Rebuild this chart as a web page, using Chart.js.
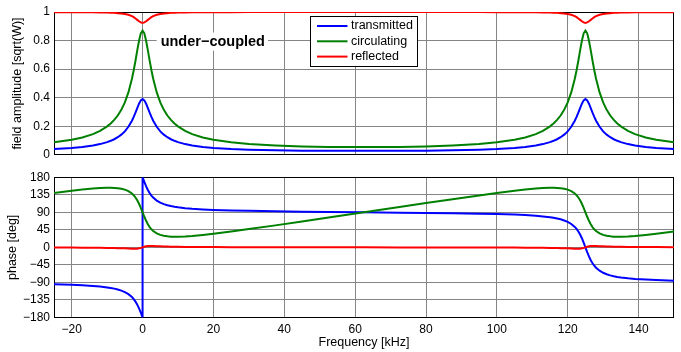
<!DOCTYPE html>
<html><head><meta charset="utf-8">
<script src="https://cdn.jsdelivr.net/npm/chart.js@4.4.1/dist/chart.umd.min.js"></script>
<style>
html,body{margin:0;padding:0;background:#fff;}
#wrap{position:relative;width:681px;height:352px;overflow:hidden;background:#fff;}
canvas{position:absolute;left:0;}
#c1{top:0;} #c2{top:166px;}
</style></head><body>
<div id="wrap"><canvas id="c1" width="681" height="166"></canvas><canvas id="c2" width="681" height="186"></canvas></div>
<script>
// ---- data (frequency in kHz) ----
const freq = [-25,-20,-17,-14,-12,-10,-9,-8,-7,-6,-5,-4,-3,-2.5,-2,-1.5,-1,-0.5,
  0,0,
  0.5,1,1.5,2,2.5,3,4,5,6,7,8,9,10,12,14,17,20,25,30,37.5,45,52.5,62.5,
  72.5,80,87.5,95,100,105,108,111,113,115,116,117,118,119,120,121,122,122.5,123,123.5,124,124.5,
  125,
  125.5,126,126.5,127,127.5,128,129,130,131,132,133,134,135,137,139,142,145,150];

const transAmp = [0.040,0.048,0.055,0.065,0.075,0.089,0.098,0.109,0.123,0.141,0.164,0.196,0.239,0.265,0.295,0.327,0.358,0.381,
  0.390,0.390,
  0.381,0.358,0.327,0.295,0.265,0.239,0.196,0.164,0.141,0.123,0.109,0.098,0.089,0.075,0.065,0.055,0.048,0.040,0.035,0.031,0.029,0.028,0.028,
  0.028,0.029,0.031,0.035,0.040,0.048,0.055,0.065,0.075,0.089,0.098,0.109,0.123,0.141,0.164,0.196,0.239,0.265,0.295,0.327,0.358,0.381,
  0.390,
  0.381,0.358,0.327,0.295,0.265,0.239,0.196,0.164,0.141,0.123,0.109,0.098,0.089,0.075,0.065,0.055,0.048,0.040];

const circAmp = [0.088,0.105,0.121,0.145,0.168,0.199,0.219,0.244,0.275,0.315,0.367,0.437,0.533,0.592,0.659,0.731,0.799,0.851,
  0.870,0.870,
  0.851,0.799,0.731,0.659,0.592,0.533,0.437,0.367,0.315,0.275,0.244,0.219,0.199,0.168,0.145,0.121,0.105,0.088,0.076,0.065,0.058,0.055,0.054,
  0.055,0.058,0.065,0.076,0.088,0.105,0.121,0.145,0.168,0.199,0.219,0.244,0.275,0.315,0.367,0.437,0.533,0.592,0.659,0.731,0.799,0.851,
  0.870,
  0.851,0.799,0.731,0.659,0.592,0.533,0.437,0.367,0.315,0.275,0.244,0.219,0.199,0.168,0.145,0.121,0.105,0.088];

const reflAmp = [0.999,0.999,0.998,0.998,0.997,0.996,0.995,0.994,0.992,0.990,0.986,0.981,0.971,0.964,0.955,0.945,0.935,0.927,
  0.924,0.924,
  0.927,0.935,0.945,0.955,0.964,0.971,0.981,0.986,0.990,0.992,0.994,0.995,0.996,0.997,0.998,0.998,0.999,0.999,0.9995,0.9995,0.9995,0.9995,0.9995,
  0.9995,0.9995,0.9995,0.9995,0.999,0.999,0.998,0.998,0.997,0.996,0.995,0.994,0.992,0.990,0.986,0.981,0.971,0.964,0.955,0.945,0.935,0.927,
  0.924,
  0.927,0.935,0.945,0.955,0.964,0.971,0.981,0.986,0.990,0.992,0.994,0.995,0.996,0.997,0.998,0.998,0.999,0.999];

const transPhase = [-94.6,-96.1,-97.3,-99.0,-100.6,-102.8,-104.2,-105.9,-108.1,-111.0,-114.7,-120.0,-127.6,-132.8,-139.2,-147.1,-156.6,-167.8,
  -180,180,
  167.8,156.6,147.1,139.2,132.8,127.6,120.0,114.7,111.0,108.1,105.9,104.2,102.8,100.6,99.0,97.3,96.1,94.6,93.6,92.4,91.6,90.9,90.0,
  89.1,88.4,87.6,86.5,85.4,84.0,82.7,81.0,79.4,77.2,75.8,74.1,71.9,69.0,65.3,60.0,52.4,47.2,40.8,32.9,23.4,12.2,
  0,
  -12.2,-23.4,-32.9,-40.8,-47.2,-52.4,-60.0,-65.3,-69.0,-71.9,-74.1,-75.8,-77.2,-79.4,-81.0,-82.7,-84.0,-85.4];

const circPhase = [139.4,145.2,148.2,150.8,152.1,152.8,152.9,152.5,151.8,150.4,148.1,144.3,138.1,133.6,128.0,120.8,111.9,101.5,
  90,90,
  78.5,68.1,59.2,52.0,46.4,41.9,35.7,31.9,29.6,28.2,27.5,27.2,27.2,27.9,29.2,31.8,34.9,40.6,46.8,56.4,66.4,76.5,90,
  103.5,113.6,123.6,133.3,139.4,145.2,148.2,150.8,152.1,152.8,152.9,152.5,151.8,150.4,148.1,144.3,138.1,133.6,128.0,120.8,111.9,101.5,
  90,
  78.5,68.1,59.2,52.0,46.4,41.9,35.7,31.9,29.6,28.2,27.5,27.2,27.2,27.9,29.2,31.8,34.9,40.6];

const reflPhase = [-0.5,-0.7,-0.9,-1.0,-1.2,-1.5,-1.6,-1.8,-2.0,-2.3,-2.6,-3.0,-3.4,-3.5,-3.5,-3.3,-2.6,-1.5,
  0,0,
  1.5,2.6,3.3,3.5,3.5,3.4,3.0,2.6,2.3,2.0,1.8,1.6,1.5,1.2,1.0,0.9,0.7,0.5,0.4,0.3,0.2,0.1,0,
  -0.1,-0.2,-0.3,-0.4,-0.5,-0.7,-0.9,-1.0,-1.2,-1.5,-1.6,-1.8,-2.0,-2.3,-2.6,-3.0,-3.4,-3.5,-3.5,-3.3,-2.6,-1.5,
  0,
  1.5,2.6,3.3,3.5,3.5,3.4,3.0,2.6,2.3,2.0,1.8,1.6,1.5,1.2,1.0,0.9,0.7,0.5];

const freqTicks = [-20,0,20,40,60,80,100,120,140];
const freqTickLabels = ['\u221220','0','20','40','60','80','100','120','140'];
const ampTicks = [0,0.2,0.4,0.6,0.8,1];
const ampTickLabels = ['0','0.2','0.4','0.6','0.8','1'];
const phaseTicks = [-180,-135,-90,-45,0,45,90,135,180];
const phaseTickLabels = ['\u2212180','\u2212135','\u221290','\u221245','0','45','90','135','180'];
const seriesNames = ['transmitted','circulating','reflected'];
const seriesColors = ['#0000ff','#008000','#ff0000'];
const annotationText = 'under\u2212coupled';
const annotationAt = {x: 5.1, y: 0.793};

// ---- chart setup ----
const FONT = "'Liberation Sans', Arial, Helvetica, sans-serif";
Chart.defaults.font.family = FONT;
Chart.defaults.font.size = 12;
Chart.defaults.color = '#000';
const GRID = '#858585';

function pts(ys){ return freq.map((x,i)=>({x:x, y:ys[i]})); }
function ds(i, ys){
  return {label:seriesNames[i], data:pts(ys), borderColor:seriesColors[i], backgroundColor:seriesColors[i],
    borderWidth:2, pointRadius:0, pointHoverRadius:0, tension:0, fill:false, order:2-i};
}
function fixedTicks(values){ return function(scale){ scale.ticks = values.map(v=>({value:v})); }; }

const framePlugin = {
  id:'frame',
  beforeDatasetsDraw(chart){
    const {ctx, chartArea:a} = chart;
    ctx.save();
    ctx.strokeStyle = '#000'; ctx.lineWidth = 1;
    ctx.strokeRect(Math.round(a.left)+0.5, Math.round(a.top)+0.5, Math.round(a.right)-Math.round(a.left)-1, Math.round(a.bottom)-Math.round(a.top)-1);
    ctx.restore();
  }
};

const decorPlugin = {
  id:'decor',
  afterDraw(chart){
    const ctx = chart.ctx;
    ctx.save();
    // annotation text with white background
    const ax = chart.scales.x.getPixelForValue(annotationAt.x);
    const ay = chart.scales.y.getPixelForValue(annotationAt.y);
    ctx.font = 'bold 14.5px ' + FONT;
    const tw = ctx.measureText(annotationText).width;
    ctx.fillStyle = '#fff';
    ctx.fillRect(ax-4, ay-9, tw+7, 18);
    ctx.fillStyle = '#000';
    ctx.textBaseline = 'middle'; ctx.textAlign = 'left';
    ctx.fillText(annotationText, ax, ay);
    // legend box
    const L = 310, T = 16, W = 107, H = 50;
    ctx.fillStyle = '#fff';
    ctx.fillRect(L, T, W, H);
    ctx.strokeStyle = '#000'; ctx.lineWidth = 1;
    ctx.strokeRect(L+0.5, T+0.5, W, H);
    ctx.font = '12.5px ' + FONT;
    for (let i=0;i<seriesNames.length;i++){
      const y = T + 10 + i*15.3;
      ctx.strokeStyle = seriesColors[i]; ctx.lineWidth = 2;
      ctx.beginPath(); ctx.moveTo(L+7, y); ctx.lineTo(L+37.5, y); ctx.stroke();
      ctx.fillStyle = '#000';
      ctx.fillText(seriesNames[i], L+41, y);
    }
    ctx.restore();
  }
};

new Chart(document.getElementById('c1'), {
  type:'line',
  data:{datasets:[ds(0,transAmp), ds(1,circAmp), ds(2,reflAmp)]},
  options:{
    responsive:false, animation:false, events:[],
    layout:{padding:{top:12, right:7, left:0, bottom:0}},
    plugins:{legend:{display:false}, tooltip:{enabled:false}},
    scales:{
      x:{type:'linear', min:-25, max:150, afterBuildTicks:fixedTicks(freqTicks),
         ticks:{display:false}, grid:{color:GRID, drawTicks:false}, border:{display:false},
         afterFit(s){ s.height = 10.5; }},
      y:{type:'linear', min:0, max:1, afterBuildTicks:fixedTicks(ampTicks),
         ticks:{callback:(v,i)=>ampTickLabels[i], padding:4, font:{size:12}},
         grid:{color:GRID, drawTicks:false}, border:{display:false},
         title:{display:true, text:'field amplitude [sqrt(W)]', font:{size:12.5}, padding:{top:10,bottom:0}},
         afterFit(s){ s.width = 54; }}
    }
  },
  plugins:[framePlugin, decorPlugin]
});

new Chart(document.getElementById('c2'), {
  type:'line',
  data:{datasets:[ds(0,transPhase), ds(1,circPhase), ds(2,reflPhase)]},
  options:{
    responsive:false, animation:false, events:[],
    layout:{padding:{top:8, right:7, left:0, bottom:0}},
    plugins:{legend:{display:false}, tooltip:{enabled:false}},
    scales:{
      x:{type:'linear', min:-25, max:150, afterBuildTicks:fixedTicks(freqTicks),
         ticks:{callback:(v,i)=>freqTickLabels[i], padding:5, autoSkip:false, maxRotation:0, font:{size:12}},
         grid:{color:GRID, drawTicks:false}, border:{display:false},
         title:{display:true, text:'Frequency [kHz]', font:{size:12.5}, padding:{top:0,bottom:2}},
         afterFit(s){ s.height = 34.5; }},
      y:{type:'linear', min:-180, max:180, afterBuildTicks:fixedTicks(phaseTicks),
         ticks:{callback:(v,i)=>phaseTickLabels[i], padding:4, font:{size:12}},
         grid:{color:GRID, drawTicks:false}, border:{display:false},
         title:{display:true, text:'phase [deg]', font:{size:12.5}, padding:{top:5.5,bottom:0}},
         afterFit(s){ s.width = 54; }}
    }
  },
  plugins:[framePlugin]
});
</script></body></html>
